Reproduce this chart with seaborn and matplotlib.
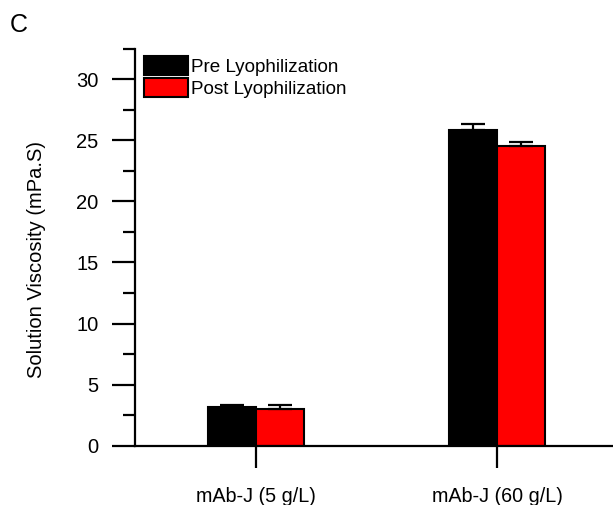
import matplotlib
matplotlib.use("Agg")
import matplotlib.pyplot as plt
import seaborn as sns
import pandas as pd
from matplotlib.ticker import MultipleLocator

# ---- data ----
groups = ["mAb-J (5 g/L)", "mAb-J (60 g/L)"]
conditions = ["Pre Lyophilization", "Post Lyophilization"]
pre_values = [3.19, 25.83]
post_values = [2.98, 24.50]
pre_errors = [0.17, 0.50]
post_errors = [0.33, 0.35]
colors = ["#000000", "#ff0000"]

sns.set_theme(style="ticks")
plt.rcParams["font.family"] = ["Liberation Sans", "DejaVu Sans"]
plt.rcParams["text.color"] = "black"
plt.rcParams["axes.labelcolor"] = "black"
plt.rcParams["xtick.color"] = "black"
plt.rcParams["ytick.color"] = "black"

df = pd.DataFrame({
    "group": groups * 2,
    "condition": [conditions[0]] * 2 + [conditions[1]] * 2,
    "value": pre_values + post_values,
})

fig = plt.figure(figsize=(6.13, 5.05), dpi=100)
ax = fig.add_axes([0.2210, 0.1174, 0.7863, 0.7863])

sns.barplot(data=df, x="group", y="value", hue="condition",
            order=groups, hue_order=conditions,
            palette=dict(zip(conditions, colors)),
            width=0.4, errorbar=None, saturation=1,
            edgecolor="black", linewidth=1.5, legend=False, ax=ax)

bar_containers = list(ax.containers)
handles = [c.patches[0] for c in bar_containers]

errs = [pre_errors, post_errors]
for cont, err in zip(bar_containers, errs):
    xs = [p.get_x() + p.get_width() / 2 for p in cont.patches]
    ys = [p.get_height() for p in cont.patches]
    ax.errorbar(xs, ys, yerr=[[0] * len(err), err], fmt="none",
                ecolor="black", elinewidth=1.6, capsize=8.3,
                capthick=1.6, zorder=1)

ax.set_xlim(-0.5, 1.5)
ax.set_ylim(0, 32.5)
ax.yaxis.set_major_locator(MultipleLocator(5))
ax.yaxis.set_minor_locator(MultipleLocator(2.5))

for s in ["top", "right"]:
    ax.spines[s].set_visible(False)
for s in ["left", "bottom"]:
    ax.spines[s].set_linewidth(1.6)
    ax.spines[s].set_color("black")

ax.tick_params(axis="y", which="major", length=16.6, width=1.6,
               pad=10, labelsize=14.5, labelcolor="black", direction="out")
ax.tick_params(axis="y", which="minor", length=8.6, width=1.6,
               direction="out")
ax.tick_params(axis="x", which="major", length=16, width=1.6,
               pad=14, labelsize=14.2, labelcolor="black", direction="out")

ax.set_xlabel("")
ax.set_ylabel("Solution Viscosity (mPa.S)", fontsize=14.5, color="black")
ax.yaxis.set_label_coords(-0.185, 0.47)

ax.legend(handles, conditions, loc="upper left",
          bbox_to_anchor=(0.017, 0.982), frameon=False, fontsize=13.6,
          handlelength=2.35, handleheight=1.2, handletextpad=0.15,
          labelspacing=0.1, borderpad=0, borderaxespad=0,
          labelcolor="black")

fig.text(0.016, 0.975, "C", fontsize=18, va="top", ha="left", color="black")

fig.savefig("out.png", dpi=100)
